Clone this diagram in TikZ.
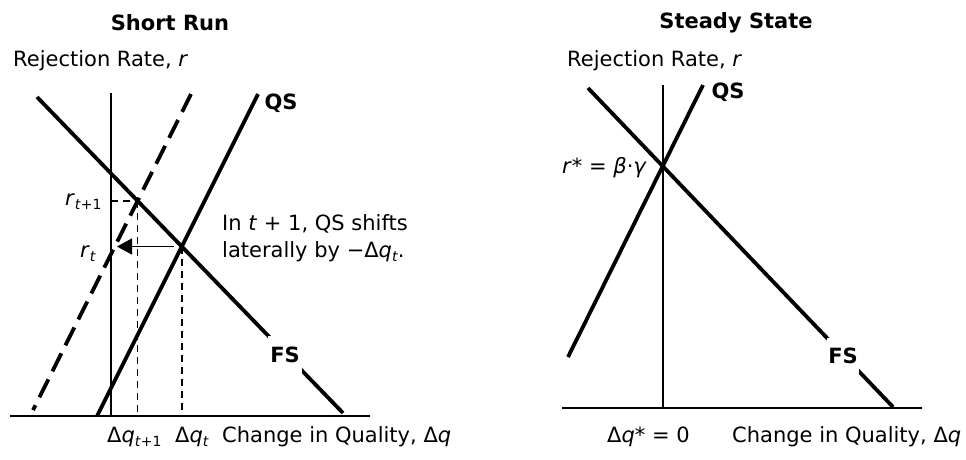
\documentclass[tikz,border=0pt]{standalone}
\usepackage{fontspec}
\setmainfont{DejaVu Sans}
\usetikzlibrary{arrows.meta}
\newcommand{\tsub}[1]{\raisebox{-0.2em}{\fontsize{14}{14}\selectfont #1}}
\begin{document}
\begin{tikzpicture}[x=1pt,y=-1pt,
  every node/.style={font=\fontsize{21}{25}\selectfont, inner sep=0pt},
  axisline/.style={line width=1.5pt},
  curveline/.style={line width=3.8pt},
  shiftedline/.style={curveline, dash pattern=on 20pt off 9pt},
  guideline/.style={line width=1.4pt, dash pattern=on 7pt off 5pt},
  curvelbl/.style={font=\bfseries\fontsize{21}{25}\selectfont},
  paneltitle/.style={font=\bfseries\fontsize{21}{25}\selectfont},
  gapbox/.style={curvelbl, fill=white, minimum width=34pt, minimum height=38pt}]
\useasboundingbox (0,0) rectangle (966,459);
% ---------------- Short Run ----------------
\node[paneltitle] (t1) at (170,23) {Short Run};
\node[anchor=base west] (ya1) at (13,66) {Rejection Rate, \textit{r}};
\coordinate (o1) at (111,416);
\coordinate (yt1) at (111,93);
\coordinate (xl1) at (10,416);
\coordinate (xr1) at (370,416);
\draw[axisline] (xl1) -- (xr1);
\draw[axisline] (yt1) -- (o1);
\coordinate (qs1b) at (97,416);
\coordinate (qs1t) at (258,94);
\coordinate (qd1t) at (191,94);
\coordinate (qd1b) at (33,410);
\coordinate (fs1t) at (37,97);
\coordinate (fs1b) at (343,413);
\draw[curveline] (qs1b) -- (qs1t);
\draw[shiftedline] (qd1t) -- (qd1b);
\draw[curveline] (fs1t) -- (fs1b);
\node[gapbox] (fs1) at (285,355) {FS};
\node[curvelbl] (qs1) at (281,103) {QS};
\coordinate (e1) at (137.6,200.9);
\coordinate (e0) at (181.8,246.5);
\coordinate (rt) at (117,246.5);
\draw[guideline] (o1 |- e1) -- (e1);
\draw[guideline] (e1) -- (e1 |- o1);
\draw[guideline] (e0) -- (e0 |- o1);
\draw[line width=1.5pt, -{Triangle[length=15pt,width=16pt]}] ([xshift=-8pt]e0) -- (rt);
\node[anchor=base west] (r1) at (65,205) {\textit{r}\tsub{\textit{t}+1}};
\node[anchor=base west] (r0) at (80,257) {\textit{r}\tsub{\textit{t}}};
\node[anchor=base west] (note1) at (222,230) {In \textit{t} + 1, QS shifts};
\node[anchor=base west] (note2) at (222,257) {laterally by −Δ\textit{q}\tsub{\textit{t}}.};
\node[anchor=base west] (dq1) at (107,442) {Δ\textit{q}\tsub{\textit{t}+1}};
\node[anchor=base west] (dq0) at (175,442) {Δ\textit{q}\tsub{\textit{t}}};
\node[anchor=base west] (xa1) at (222,442) {Change in Quality, Δ\textit{q}};
% ---------------- Steady State ----------------
\node[paneltitle] (t2) at (736,23) {Steady State};
\node[anchor=base west] (ya2) at (567,66) {Rejection Rate, \textit{r}};
\coordinate (o2) at (663,408);
\coordinate (yt2) at (663,85);
\coordinate (xl2) at (562,408);
\coordinate (xr2) at (922,408);
\draw[axisline] (xl2) -- (xr2);
\draw[axisline] (yt2) -- (o2);
\coordinate (qs2b) at (568,357);
\coordinate (qs2t) at (703,85);
\coordinate (fs2t) at (588,88);
\coordinate (fs2b) at (893,407);
\draw[curveline] (qs2b) -- (qs2t);
\draw[curveline] (fs2t) -- (fs2b);
\node[gapbox, minimum width=32pt, minimum height=36pt] (fs2) at (843,356) {FS};
\node[curvelbl] (qs2) at (728,92) {QS};
\node[anchor=base east] (rs) at (647,173) {\textit{r}* = \textit{β}·\textit{γ}};
\node[anchor=base west] (dqs) at (607,442) {Δ\textit{q}* = 0};
\node[anchor=base west] (xa2) at (732,442) {Change in Quality, Δ\textit{q}};
\end{tikzpicture}
\end{document}
